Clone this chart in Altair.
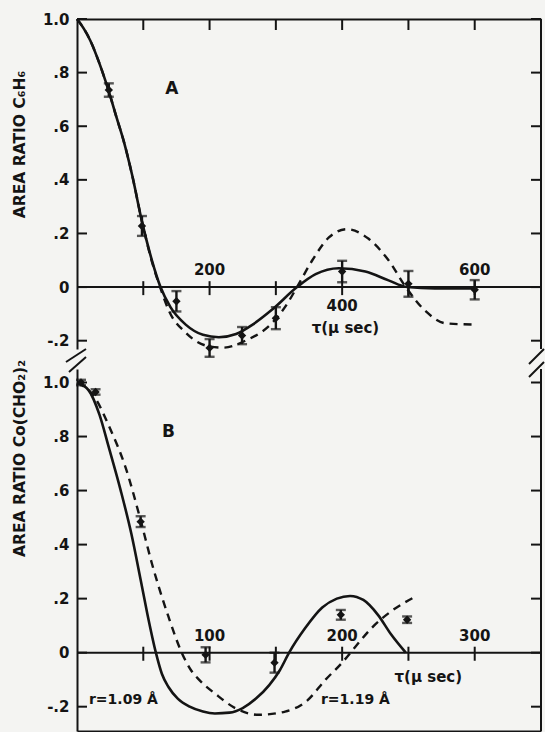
import altair as alt
import pandas as pd

# ---------------- Panel A data (tau in microseconds) ----------------
A_SOLID_T = [0, 10, 20, 33, 48, 60, 71, 83, 98, 113, 126, 141, 164, 190, 214, 240, 265, 294, 332, 360, 395, 435, 470, 498, 540, 600]
A_SOLID_Y = [1.0, 0.965, 0.92, 0.84, 0.73, 0.63, 0.54, 0.42, 0.245, 0.1, 0.0, -0.075, -0.14, -0.178, -0.187, -0.175, -0.14, -0.085, 0.0, 0.048, 0.07, 0.058, 0.025, 0.0, -0.005, -0.005]
A_DASH_T = [0, 10, 20, 33, 48, 60, 71, 83, 98, 113, 126, 139, 164, 194, 220, 254, 294, 315, 332, 355, 380, 407, 440, 470, 496, 526, 556, 600]
A_DASH_Y = [1.0, 0.965, 0.92, 0.84, 0.73, 0.63, 0.54, 0.42, 0.245, 0.095, -0.005, -0.09, -0.17, -0.218, -0.226, -0.2, -0.135, -0.07, 0.0, 0.1, 0.185, 0.216, 0.18, 0.10, 0.0, -0.09, -0.135, -0.14]
A_PT_T = [48, 98, 150, 200, 249, 300, 400, 500, 600]
A_PT_Y = [0.735, 0.228, -0.053, -0.227, -0.181, -0.116, 0.058, 0.012, -0.01]
A_PT_ERR = [0.025, 0.037, 0.038, 0.033, 0.032, 0.041, 0.04, 0.048, 0.036]
A_XTICKS = [100, 200, 300, 400, 500, 600]
A_XLAB_UP = [200, 600]
A_XLAB_DOWN = [400]

# ---------------- Panel B data ----------------
B_SOLID_T = [0, 9, 17, 24, 33, 41, 48, 53, 59.5, 64, 69, 76, 85, 95, 104, 115, 125, 135, 145, 153, 160, 172, 185, 196, 206, 216, 227, 237, 248]
B_SOLID_Y = [1.0, 0.97, 0.88, 0.76, 0.6, 0.44, 0.27, 0.145, 0.0, -0.078, -0.127, -0.17, -0.2, -0.218, -0.225, -0.222, -0.205, -0.17, -0.12, -0.065, 0.0, 0.09, 0.167, 0.2, 0.21, 0.195, 0.14, 0.067, 0.0]
B_DASH_T = [0, 14, 24, 37, 48, 56.5, 69, 79, 86, 92, 105, 120, 137, 157, 173, 187.5, 200, 210, 222, 237.5, 254]
B_DASH_Y = [1.0, 0.94, 0.84, 0.68, 0.49, 0.33, 0.133, 0.0, -0.065, -0.1, -0.155, -0.207, -0.23, -0.218, -0.18, -0.1, -0.037, 0.022, 0.09, 0.155, 0.204]
B_PT_T = [3, 14, 48, 97, 149, 199, 249]
B_PT_Y = [1.0, 0.965, 0.485, -0.008, -0.037, 0.14, 0.122]
B_PT_ERR = [0.01, 0.01, 0.02, 0.028, 0.037, 0.018, 0.012]
B_XTICKS = [50, 100, 150, 200, 250, 300]
B_XLAB_UP = [100, 200, 300]

Y_TICKS = [-0.2, 0.0, 0.2, 0.4, 0.6, 0.8, 1.0]

FONT = "DejaVu Sans"
INK = "#141414"
W = 464
HA = 330
HB = 362

label_expr = ("datum.value == 0 ? '0' : (datum.value == 1 ? '1.0' : "
              "(datum.value < 0 ? '-' + replace(format(-datum.value, '.1f'), '0.', '.') : "
              "replace(format(datum.value, '.1f'), '0.', '.')))")


def panel(solid_t, solid_y, dash_t, dash_y, pt_t, pt_y, pt_err, xticks,
          lab_up, lab_down, xdom, ydom, h, title, title_y, xorient,
          annot, top_ticks):
    xs = alt.Scale(domain=xdom, nice=False, zero=False)
    ys = alt.Scale(domain=ydom, nice=False, zero=False)
    x_axis = alt.Axis(orient=xorient, labels=False, ticks=False, domain=True,
                      domainWidth=2, domainColor=INK, grid=False, title=None)
    y_axis = alt.Axis(values=Y_TICKS, labelExpr=label_expr, ticks=False,
                      domain=True, domainWidth=2, domainColor=INK, grid=False,
                      labelFont=FONT, labelFontWeight="bold", labelFontSize=15,
                      labelColor=INK, labelPadding=8, title=title,
                      titleFont=FONT, titleFontSize=15.5, titleFontWeight="bold",
                      titleColor=INK, titleAngle=270, titleX=-58, titleY=title_y,
                      titleAlign="center", titleBaseline="middle")

    solid = pd.DataFrame({"t": solid_t, "y": solid_y})
    dash = pd.DataFrame({"t": dash_t, "y": dash_y})
    pts = pd.DataFrame({"t": pt_t, "y": pt_y, "e": pt_err})
    pts["lo"] = pts["y"] - pts["e"]
    pts["hi"] = pts["y"] + pts["e"]
    yt = pd.DataFrame({"v": Y_TICKS})
    xt = pd.DataFrame({"t": xticks})
    one = pd.DataFrame({"k": [0]})

    base_x = alt.X("t:Q", scale=xs, axis=x_axis)

    zero = alt.Chart(one).mark_rule(color=INK, strokeWidth=2).encode(
        y=alt.datum(0, scale=ys, axis=y_axis))
    zticks = alt.Chart(xt).mark_rule(color=INK, strokeWidth=2).encode(
        x=base_x, y=alt.datum(0.022, scale=ys), y2=alt.datum(-0.03))
    lticks = alt.Chart(yt).mark_rule(color=INK, strokeWidth=2).encode(
        y=alt.Y("v:Q", scale=ys), x=alt.value(0), x2=alt.value(10))
    rticks = alt.Chart(yt).mark_rule(color=INK, strokeWidth=2).encode(
        y=alt.Y("v:Q", scale=ys), x=alt.value(W - 10), x2=alt.value(W))
    rborder = alt.Chart(one).mark_rule(color=INK, strokeWidth=2).encode(
        x=alt.value(W), y=alt.value(0), y2=alt.value(h))

    sline = alt.Chart(solid).mark_line(color=INK, strokeWidth=2.6,
                                       interpolate="monotone").encode(
        x=base_x, y=alt.Y("y:Q", scale=ys))
    dline = alt.Chart(dash).mark_line(color=INK, strokeWidth=2.4,
                                      strokeDash=[8, 6],
                                      interpolate="monotone").encode(
        x=base_x, y=alt.Y("y:Q", scale=ys))
    ebar = alt.Chart(pts).mark_rule(color=INK, strokeWidth=2.4).encode(
        x=base_x, y=alt.Y("lo:Q", scale=ys), y2="hi:Q")
    cap_lo = alt.Chart(pts).mark_tick(color=INK, orient="horizontal", size=10,
                                      thickness=2.4).encode(
        x=base_x, y=alt.Y("lo:Q", scale=ys))
    cap_hi = alt.Chart(pts).mark_tick(color=INK, orient="horizontal", size=10,
                                      thickness=2.4).encode(
        x=base_x, y=alt.Y("hi:Q", scale=ys))
    marks = alt.Chart(pts).mark_point(shape="diamond", filled=True, size=70,
                                      color=INK, opacity=1).encode(
        x=base_x, y=alt.Y("y:Q", scale=ys))

    up = alt.Chart(pd.DataFrame({"t": lab_up})).mark_text(
        font=FONT, fontSize=15, fontWeight="bold", color=INK, dy=-17).encode(
        x=base_x, y=alt.datum(0, scale=ys), text=alt.Text("t:Q", format="d"))
    layers = [zero, zticks, lticks, rticks, rborder, sline, dline, ebar,
              cap_lo, cap_hi, marks, up]
    if lab_down:
        down = alt.Chart(pd.DataFrame({"t": lab_down})).mark_text(
            font=FONT, fontSize=15, fontWeight="bold", color=INK, dy=19).encode(
            x=base_x, y=alt.datum(0, scale=ys), text=alt.Text("t:Q", format="d"))
        layers.append(down)
    if top_ticks:
        tt = alt.Chart(xt).mark_rule(color=INK, strokeWidth=2).encode(
            x=base_x, y=alt.value(0), y2=alt.value(11))
        layers.append(tt)
    ann = alt.Chart(pd.DataFrame(annot)).mark_text(
        font=FONT, fontWeight="bold", color=INK).encode(
        x=alt.X("t:Q", scale=xs), y=alt.Y("y:Q", scale=ys), text="label:N",
        size=alt.Size("fs:Q", scale=None, legend=None))
    layers.append(ann)
    return alt.layer(*layers).properties(width=W, height=h)


A_ANNOT = {"t": [143, 405], "y": [0.74, -0.153],
           "label": ["A", "τ(μ sec)"], "fs": [17, 15]}
B_ANNOT = {"t": [69, 265, 35, 210], "y": [0.818, -0.089, -0.174, -0.174],
           "label": ["B", "τ(μ sec)", "r=1.09 Å", "r=1.19 Å"],
           "fs": [17, 15, 14, 14]}

panel_a = panel(A_SOLID_T, A_SOLID_Y, A_DASH_T, A_DASH_Y, A_PT_T, A_PT_Y,
                A_PT_ERR, A_XTICKS, A_XLAB_UP, A_XLAB_DOWN, [0, 700],
                [-0.231, 1.0], HA, "AREA RATIO C₆H₆", 125, "top", A_ANNOT, True)

# break marks between panels (decoration)
brk = alt.Chart(pd.DataFrame({"k": [0]}))
breaks = [
    brk.mark_rule(color=INK, strokeWidth=2).encode(
        x=alt.value(-11), x2=alt.value(9), y=alt.value(343), y2=alt.value(330)),
    brk.mark_rule(color=INK, strokeWidth=2).encode(
        x=alt.value(-8), x2=alt.value(9), y=alt.value(353), y2=alt.value(338)),
    brk.mark_rule(color=INK, strokeWidth=2).encode(
        x=alt.value(452), x2=alt.value(467), y=alt.value(345), y2=alt.value(330)),
    brk.mark_rule(color=INK, strokeWidth=2).encode(
        x=alt.value(452), x2=alt.value(467), y=alt.value(358), y2=alt.value(343)),
]
panel_a = alt.layer(panel_a, *breaks)

panel_b = panel(B_SOLID_T, B_SOLID_Y, B_DASH_T, B_DASH_Y, B_PT_T, B_PT_Y,
                B_PT_ERR, B_XTICKS, B_XLAB_UP, [], [0, 350],
                [-0.29, 1.05], HB, "AREA RATIO Co(CHO₂)₂", 89, "bottom", B_ANNOT, False)

chart = alt.vconcat(panel_a, panel_b, spacing=20, bounds="flush").properties(
    padding={"left": 11, "top": 12, "right": 0, "bottom": 0},
    background="#f4f4f2",
).configure_view(stroke=None)

chart.save("out.html", embed_options={"renderer": "svg", "actions": False})
